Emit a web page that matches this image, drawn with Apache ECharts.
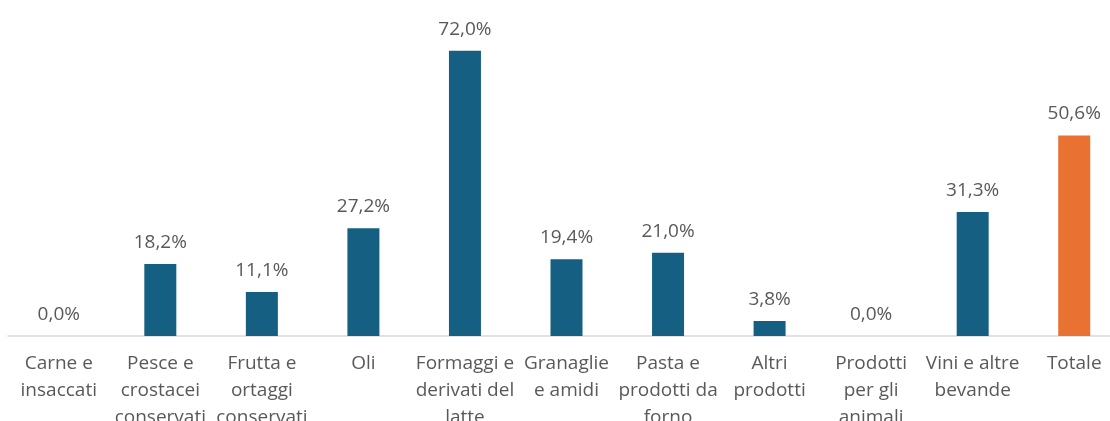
<!DOCTYPE html>
<html><head><meta charset="utf-8">
<script src="https://cdn.jsdelivr.net/npm/echarts@6/dist/echarts.min.js"></script>
<style>html,body{margin:0;padding:0;background:#fff;}#c{width:1110px;height:421px;}</style>
</head><body><div id="c"></div>
<script>
const categories = ["Carne e\ninsaccati","Pesce e\ncrostacei\nconservati","Frutta e\nortaggi\nconservati","Oli","Formaggi e\nderivati del\nlatte","Granaglie\ne amidi","Pasta e\nprodotti da\nforno","Altri\nprodotti","Prodotti\nper gli\nanimali","Vini e altre\nbevande","Totale"];
const values = [0.0, 18.2, 11.1, 27.2, 72.0, 19.4, 21.0, 3.8, 0.0, 31.3, 50.6];
const highlightIndex = 10;
const blue = "#156082", orange = "#E97132";
const chart = echarts.init(document.getElementById('c'), null, {renderer:'canvas'});
chart.setOption({
  animation:false,
  grid:{left:8, right:-15, top:19, bottom:85, containLabel:false, outerBoundsMode:'none'},
  xAxis:{type:'category', data:categories,
    axisLine:{lineStyle:{color:'#D9D9D9', width:1.5}},
    axisTick:{show:false},
    axisLabel:{interval:0, color:'#595959', fontSize:19, lineHeight:27, margin:14, fontFamily:'Open Sans'}},
  yAxis:{type:'value', min:0, max:80, show:false, splitLine:{show:false}},
  series:[{type:'bar', barWidth:32,
    data: values.map((v,i)=>({value:v, itemStyle:{color: i===highlightIndex?orange:blue}})),
    label:{show:true, position:'top', distance:12, color:'#595959', fontSize:19, fontFamily:'Open Sans',
      formatter:p=>p.value.toFixed(1).replace('.',',')+'%'}}]
});
</script></body></html>
